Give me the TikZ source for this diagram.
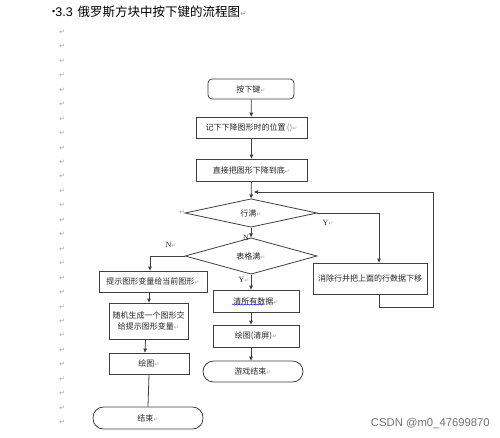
\documentclass[tikz,border=0pt]{standalone}
\usepackage{fontspec}
\setmainfont{Noto Sans CJK SC}
\newfontfamily\djv{DejaVu Sans}
\newfontfamily\lsans{Liberation Sans}
\newfontfamily\lserif{Liberation Serif}
\usetikzlibrary{shapes.geometric,arrows.meta,decorations.pathmorphing}
\newcommand{\rmk}{{\djv\color{black!35}\fontsize{6}{6}\selectfont ↵}}
\tikzset{
  box/.style={draw=black!75, line width=0.8pt, rectangle, inner sep=0pt, align=center,
    font=\fontsize{8}{11}\selectfont, text=black!85},
  dia/.style={box, diamond, minimum width=132pt, minimum height=28pt},
  arr/.style={draw=black!75, line width=0.8pt, -{Triangle[length=4pt,width=3.5pt]}},
  ln/.style={draw=black!75, line width=0.8pt},
  lbl/.style={font=\lserif\fontsize{8}{8}\selectfont, inner sep=0pt, text=black!85},
  pm/.style={font=\djv\fontsize{7}{7}\selectfont, text=black!35, inner sep=0pt}
}
\begin{document}
\begin{tikzpicture}[x=1pt,y=-1pt]
\useasboundingbox (0,0) rectangle (500,437);
\fill[white] (0,0) rectangle (500,437);
% title
\node[anchor=west, inner sep=0pt, font=\fontsize{12.5}{13}\selectfont] (title) at (52,12)
  {{\lsans\fontsize{9}{9}\selectfont\raisebox{2pt}{•}}{\lsans 3.3}\hspace{5pt}俄罗斯方块中按下键的流程图{\djv\color{black!35}\fontsize{8}{8}\selectfont ↵}};
% paragraph marks
\foreach \i in {0,...,27} {
  \node[pm] (pm\i) at (62,{32.3+14.45*\i}) {↵};
}
% nodes
\node[box, rounded corners=4pt, minimum width=86pt, minimum height=20pt] (k1) at (251,89) {按下键\rmk};
\node[box, minimum width=111pt, minimum height=21pt] (k2) at (251.5,127.5) {记下下降图形时的位置\,{\color{black!50}()}\rmk};
\node[box, minimum width=111pt, minimum height=22pt] (k3) at (251.5,170) {直接把图形下降到底\rmk};
\node[dia] (d1) at (251,213) {行满\rmk};
\node[dia, minimum height=27pt] (d2) at (251,256) {表格满\rmk};
\node[box, minimum width=114pt, minimum height=31pt] (clr) at (370,278.5) {消除行并把上面的行数据下移};
\node[box, minimum width=108pt, minimum height=21pt] (hint) at (153,281.5) {提示图形变量给当前图形\rmk};
\node[box, minimum width=79pt, minimum height=36pt] (rand) at (148.5,321) {随机生成一个图形交\\给提示图形变量\rmk};
\node[box, minimum width=80pt, minimum height=21pt] (draw1) at (149,363.5) {绘图\rmk};
\node[box, rounded corners=10.5pt, minimum width=110pt, minimum height=22pt] (end) at (148,418) {结束\rmk};
\node[box, minimum width=86pt, minimum height=22pt] (clrall) at (256,301) {清所有数据\rmk};
\node[box, minimum width=86pt, minimum height=22pt] (draw2) at (256,336) {绘图(清屏)\rmk};
\node[box, rounded corners=10.5pt, minimum width=100pt, minimum height=21pt] (over) at (253,371.5) {游戏结束\rmk};
% spell-check underline
\draw[blue!70!black, line width=0.4pt, decorate, decoration={snake, amplitude=0.6pt, segment length=3pt}]
  ([xshift=-24pt, yshift=-3.5pt]clrall.center) -- ([xshift=8pt, yshift=-3.5pt]clrall.center);
% labels
\node[lbl] (ly1) at (328,223) {Y\rmk};
\node[lbl] (ln1) at (246,238) {N};
\node[lbl] (ln2) at (171,245) {N\rmk};
\node[lbl] (ly2) at (244,280) {Y\rmk};
\node[pm] (pmd) at (182,212) {↵};
% coordinates
\coordinate (loopR) at (433,192);
\coordinate (join) at (254,192);
% connectors
\draw[arr] (k1) -- (k2);
\draw[arr] (k2) -- (k3);
\draw[arr] (k3) -- (d1);
\draw[arr] (d1.east) -| ([xshift=9pt]clr.north);
\draw[arr] (d1) -- (d2);
\draw[arr] (d2.west) -| ([xshift=-3pt]hint.north);
\draw[arr] (d2.south) -- (d2.south |- clrall.north);
\draw[arr] ([xshift=9pt]clr.south) -- ++(0,13) -| (loopR) -- (join);
\draw[arr] ([xshift=-4pt]hint.south) -- ([xshift=0.5pt]rand.north);
\draw[arr] ([xshift=-3pt]rand.south) -- ([xshift=-4pt]draw1.north);
\draw[ln] (draw1.south) -- (end.north);
\draw[arr] ([xshift=-5pt]clrall.south) -- ([xshift=-5pt]draw2.north);
\draw[arr] ([xshift=-5pt]draw2.south) -- ([xshift=-2pt]over.north);
% watermark
\node[anchor=east, inner sep=0pt, font=\lsans\fontsize{11.3}{12}\selectfont, text=black!55] (wm) at (490,424) {CSDN @m0\_47699870};
\end{tikzpicture}
\end{document}
